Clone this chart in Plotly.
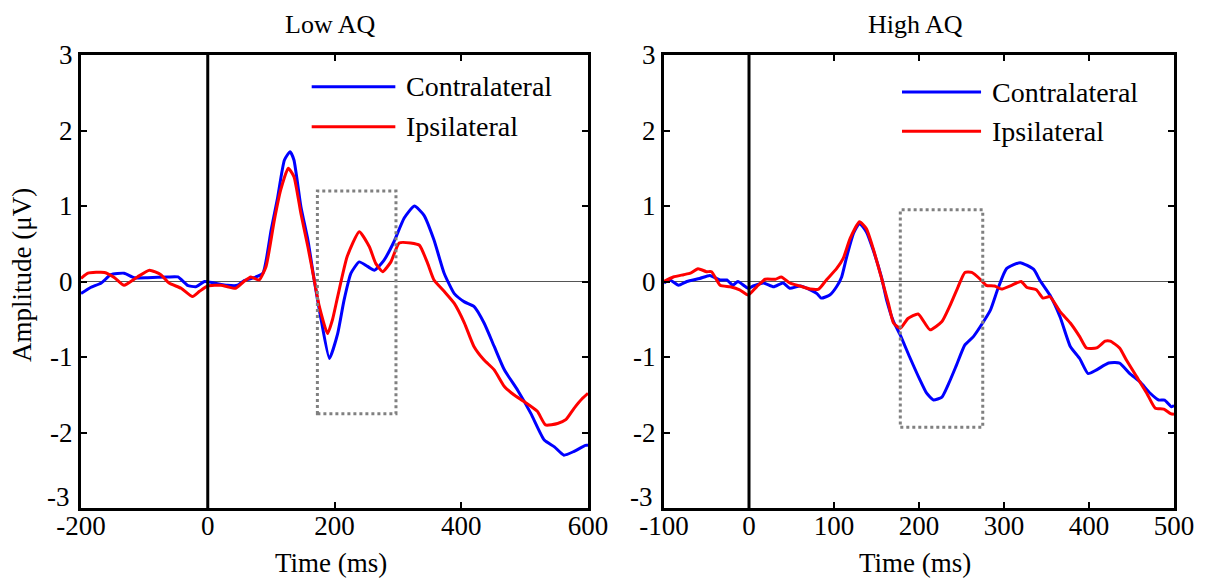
import plotly.graph_objects as go

# -------------------------
# DATA
# -------------------------
low_t_contra = [-200, -185, -168, -153, -132, -116, -95, -63, -47, -32, -19, -5, 10, 31, 47, 57, 73, 87,
                100, 110, 121, 130, 136, 147, 158, 168, 179, 192, 205, 215, 226, 239, 252, 263, 278,
                294, 310, 326, 341, 357, 373, 389, 405, 420, 436, 452, 468, 489, 510, 531, 547, 562,
                578, 596, 600]
low_contra = [-0.16, -0.08, -0.02, 0.09, 0.11, 0.05, 0.05, 0.06, 0.06, -0.05, -0.07, 0.0, -0.02, -0.05,
              -0.05, 0.01, 0.05, 0.11, 0.68, 1.10, 1.61, 1.72, 1.61, 0.99, 0.55, 0.02, -0.51, -1.02,
              -0.69, -0.25, 0.11, 0.26, 0.20, 0.15, 0.28, 0.53, 0.84, 1.00, 0.88, 0.55, 0.11, -0.16,
              -0.27, -0.33, -0.55, -0.86, -1.17, -1.44, -1.75, -2.10, -2.19, -2.30, -2.25, -2.17, -2.17]

low_t_ipsi = [-200, -189, -163, -147, -132, -111, -92, -74, -61, -42, -24, -13, 0, 21, 31, 44, 57, 68,
              81, 92, 105, 115, 127, 136, 147, 158, 168, 176, 189, 197, 205, 220, 239, 255, 265, 276,
              289, 302, 320, 334, 347, 357, 373, 389, 405, 420, 436, 452, 468, 483, 499, 520, 533,
              552, 565, 578, 591, 600]
low_ipsi = [0.04, 0.11, 0.12, 0.05, -0.05, 0.06, 0.15, 0.09, -0.02, -0.09, -0.20, -0.13, -0.06, -0.05,
            -0.07, -0.09, 0.0, 0.06, 0.02, 0.20, 0.81, 1.21, 1.50, 1.39, 0.90, 0.46, 0.02, -0.33,
            -0.69, -0.50, -0.20, 0.33, 0.66, 0.46, 0.24, 0.13, 0.26, 0.51, 0.51, 0.48, 0.24, 0.02,
            -0.13, -0.29, -0.55, -0.86, -1.04, -1.17, -1.39, -1.50, -1.59, -1.72, -1.90, -1.88,
            -1.83, -1.68, -1.55, -1.48]

high_t_contra = [-100, -93, -83, -73, -58, -46, -34, -26, -19, -13, -1, 5, 17, 29, 40, 48, 60, 72, 80,
                 85, 95, 103, 109, 115, 123, 130, 138, 146, 156, 162, 170, 178, 189, 201, 209, 217,
                 227, 235, 244, 254, 264, 272, 284, 293, 303, 319, 335, 342, 354, 366, 378, 389, 399,
                 409, 423, 436, 448, 460, 472, 482, 489, 497, 500]
high_contra = [-0.02, 0.02, -0.05, 0.0, 0.04, 0.08, 0.02, 0.02, -0.05, 0.0, -0.09, -0.06, -0.02, -0.07,
               -0.02, -0.09, -0.06, -0.11, -0.16, -0.22, -0.18, -0.07, 0.06, 0.33, 0.64, 0.77, 0.66,
               0.42, 0.05, -0.25, -0.53, -0.71, -1.00, -1.30, -1.48, -1.57, -1.53, -1.35, -1.11,
               -0.84, -0.73, -0.60, -0.38, -0.09, 0.17, 0.25, 0.16, 0.02, -0.18, -0.47, -0.86, -1.02,
               -1.22, -1.17, -1.08, -1.08, -1.22, -1.33, -1.48, -1.57, -1.57, -1.66, -1.64]

high_t_ipsi = [-100, -89, -77, -69, -60, -50, -44, -34, -22, -11, -1, 9, 19, 31, 38, 48, 60, 72, 82,
               91, 103, 111, 119, 130, 138, 146, 156, 164, 170, 178, 187, 199, 213, 227, 236, 246,
               254, 262, 272, 279, 289, 297, 309, 320, 327, 338, 346, 354, 366, 378, 389, 397, 409,
               419, 425, 436, 444, 456, 468, 478, 488, 496, 500]
high_ipsi = [0.0, 0.06, 0.09, 0.11, 0.17, 0.13, 0.13, -0.05, -0.07, -0.11, -0.18, -0.07, 0.03, 0.03,
             0.06, -0.02, -0.06, -0.10, -0.10, 0.02, 0.17, 0.31, 0.57, 0.79, 0.70, 0.44, 0.04, -0.29,
             -0.55, -0.62, -0.49, -0.43, -0.64, -0.53, -0.33, -0.07, 0.12, 0.12, 0.03, -0.05, -0.06,
             -0.10, -0.05, 0.0, -0.08, -0.11, -0.22, -0.20, -0.40, -0.55, -0.73, -0.88, -0.88,
             -0.79, -0.79, -0.88, -1.04, -1.26, -1.48, -1.68, -1.69, -1.75, -1.76]

panel_titles = ["Low AQ", "High AQ"]
series_names = ["Contralateral", "Ipsilateral"]
low_xticks = [-200, 0, 200, 400, 600]
high_xticks = [-100, 0, 100, 200, 300, 400, 500]
yticks = [-3, -2, -1, 0, 1, 2, 3]

# analysis windows (dotted boxes): t0, t1, a_top, a_bottom
low_box = [173, 297, 1.2, -1.75]
high_box = [178, 275, 0.95, -1.93]

BLUE = "#0000FF"
RED = "#FF0000"
FONT = "Liberation Serif"
FS = 27

# the page body adds an 8px margin, so the figure is drawn 8px smaller
# and every pixel position below is measured in window pixels minus OFF
OFF = 8
W, H = 1211 - OFF, 580 - OFF
LEFT_PX = (81 - OFF, 588 - OFF)
RIGHT_PX = (664 - OFF, 1174 - OFF)
TOP_PX, BOT_PX = 55 - OFF, 508 - OFF

fig = go.Figure()

panels = [
    ("x", "y", low_t_contra, low_contra, low_t_ipsi, low_ipsi),
    ("x2", "y2", high_t_contra, high_contra, high_t_ipsi, high_ipsi),
]
for xa, ya, tc, vc, ti, vi in panels:
    fig.add_trace(go.Scatter(x=tc, y=vc, mode="lines", xaxis=xa, yaxis=ya,
                             line=dict(color=BLUE, width=3, shape="spline", smoothing=0.5),
                             showlegend=False))
    fig.add_trace(go.Scatter(x=ti, y=vi, mode="lines", xaxis=xa, yaxis=ya,
                             line=dict(color=RED, width=3, shape="spline", smoothing=0.5),
                             showlegend=False))


def axis_x(domain, ticks, rng, anchor):
    return dict(
        domain=domain, range=rng, anchor=anchor,
        tickvals=ticks, ticktext=[str(t) for t in ticks],
        showgrid=False, zeroline=False, automargin=False,
        showline=True, linecolor="black", linewidth=3, mirror="ticks",
        ticks="inside", ticklen=6, tickwidth=2, tickcolor="black",
        ticklabelstandoff=-8,
        tickfont=dict(family=FONT, size=FS, color="black"),
    )


def axis_y(anchor):
    # the bottom label (-3) is drawn separately, raised like in the original
    return dict(
        domain=[1 - BOT_PX / H, 1 - TOP_PX / H], range=[-3, 3], anchor=anchor,
        tickvals=yticks, ticktext=["" if t == yticks[0] else str(t) for t in yticks],
        showgrid=False, zeroline=True, zerolinecolor="#555555", zerolinewidth=1,
        automargin=False,
        showline=True, linecolor="black", linewidth=3, mirror="ticks",
        ticks="inside", ticklen=6, tickwidth=2, tickcolor="black",
        tickfont=dict(family=FONT, size=FS, color="black"),
    )


shapes = []
annotations = []

for xa, ya, box, leg in [("x", "y", low_box, (164, 296, 2.58, 2.05)),
                         ("x2", "y2", high_box, (180, 273, 2.51, 1.99))]:
    # vertical stimulus line at t = 0
    shapes.append(dict(type="line", xref=xa, yref=ya, x0=0, x1=0, y0=-3, y1=3,
                       line=dict(color="black", width=3), layer="above"))
    # dotted analysis window
    shapes.append(dict(type="rect", xref=xa, yref=ya, x0=box[0], x1=box[1], y0=box[3], y1=box[2],
                       line=dict(color="#808080", width=3, dash="dot"), layer="above"))
    # legend samples
    lx0, lx1, ly_c, ly_i = leg
    for col, yy, name in [(BLUE, ly_c, series_names[0]), (RED, ly_i, series_names[1])]:
        shapes.append(dict(type="line", xref=xa, yref=ya, x0=lx0, x1=lx1, y0=yy, y1=yy,
                           line=dict(color=col, width=3)))
        annotations.append(dict(xref=xa, yref=ya, x=lx1, y=yy, text=name, showarrow=False,
                                xanchor="left", yanchor="middle", xshift=9,
                                font=dict(family=FONT, size=FS + 1, color="black")))
    # raised bottom y label
    annotations.append(dict(xref=xa + " domain", yref=ya, x=0, y=yticks[0], text=str(yticks[0]),
                            showarrow=False, xanchor="right", yanchor="middle",
                            xshift=-9, yshift=11,
                            font=dict(family=FONT, size=FS, color="black")))

# titles and axis labels
for (px0, px1), title in zip([LEFT_PX, RIGHT_PX], panel_titles):
    cx = (px0 + px1) / 2 / W
    annotations.append(dict(xref="paper", yref="paper", x=cx - 4 / W, y=1 - (25 - OFF) / H,
                            text=title, showarrow=False, xanchor="center", yanchor="middle",
                            font=dict(family=FONT, size=FS - 1, color="black")))
    annotations.append(dict(xref="paper", yref="paper", x=cx - 4 / W, y=1 - (563 - OFF) / H,
                            text="Time (ms)", showarrow=False, xanchor="center", yanchor="middle",
                            font=dict(family=FONT, size=FS, color="black")))

annotations.append(dict(xref="paper", yref="paper", x=(22 - OFF) / W, y=1 - (275 - OFF) / H,
                        text="Amplitude (\u03bcV)", showarrow=False, textangle=-90,
                        xanchor="center", yanchor="middle",
                        font=dict(family=FONT, size=FS, color="black")))

fig.update_layout(
    width=W, height=H, autosize=False,
    paper_bgcolor="white", plot_bgcolor="white",
    margin=dict(l=0, r=0, t=0, b=0, pad=0, autoexpand=False),
    xaxis=axis_x([LEFT_PX[0] / W, LEFT_PX[1] / W], low_xticks, [-200, 600], "y"),
    yaxis=axis_y("x"),
    xaxis2=axis_x([RIGHT_PX[0] / W, RIGHT_PX[1] / W], high_xticks, [-100, 500], "y2"),
    yaxis2=axis_y("x2"),
    shapes=shapes,
    annotations=annotations,
    showlegend=False,
)

fig.write_html("out.html")
